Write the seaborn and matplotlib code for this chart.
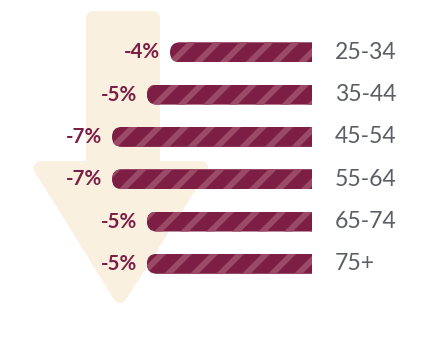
import numpy as np
import pandas as pd
import matplotlib
matplotlib.use("Agg")
import matplotlib.pyplot as plt
import seaborn as sns
from matplotlib.patches import Polygon, FancyBboxPatch

# ---- data ----
age_groups = ["25-34", "35-44", "45-54", "55-64", "65-74", "75+"]
pct_labels = ["-4%", "-5%", "-7%", "-7%", "-5%", "-5%"]
bar_values = [-4.97, -5.78, -7.0, -7.0, -5.78, -5.78]

# ---- style ----
W, H, DPI = 440, 343, 78
BASE = "#7D1E45"
STRIPE = "#9A4966"
CREAM = "#FAF0DF"
GREY = "#5B5E64"

sns.set_theme(style="white")
plt.rcParams["font.family"] = ["Lato", "DejaVu Sans"]
plt.rcParams["hatch.linewidth"] = 5.5

def px2pt(px):
    return px * 72.0 / DPI

fig = plt.figure(figsize=(W / DPI, H / DPI), dpi=DPI)
fig.patch.set_facecolor("white")
ax = fig.add_axes([0, 0, 1, 1])
ax.set_facecolor("none")

df = pd.DataFrame({"age": age_groups, "value": bar_values})
sx = 28.57   # px per x unit
sy = 42.3    # px per category step
x_zero_px = 312.0
y_first_px = 52.3
bar_h = 20.0 / sy

sns.barplot(data=df, x="value", y="age", orient="h", color=BASE,
            width=bar_h, ax=ax, saturation=1)

ax.set_xlim(-x_zero_px / sx, (W - x_zero_px) / sx)
ax.set_ylim((H - y_first_px) / sy, -y_first_px / sy)
ax.axis("off")

r_x = 10.0 / sx
aspect = (10.0 / sy) / r_x
for p in ax.patches:
    x0 = p.get_x()
    w = p.get_width()
    left = min(x0, x0 + w)
    right = max(x0, x0 + w)
    y0 = p.get_y()
    h = p.get_height()
    p.set_edgecolor(STRIPE)
    p.set_linewidth(0)
    p.set_hatch("/")
    clip = FancyBboxPatch((left, y0), (right - left) + 1.0, h,
                          boxstyle=f"round,pad=0,rounding_size={r_x}",
                          mutation_aspect=aspect, transform=ax.transData)
    p.set_clip_path(clip)

for i, (v, lab, age) in enumerate(zip(bar_values, pct_labels, age_groups)):
    ax.annotate(lab, xy=(v, i), xytext=(-px2pt(10), 0), textcoords="offset points",
                ha="right", va="center", color=BASE, fontweight="bold",
                fontsize=px2pt(20.5))
    ax.annotate(age, xy=(0, i), xytext=(px2pt(23), 0), textcoords="offset points",
                ha="left", va="center", color=GREY, fontsize=px2pt(23))

# ---- background arrow (decoration) ----
arrow_px = [(86, 11), (160, 11), (160, 161), (214, 161), (120, 309), (28, 161), (86, 161)]
pts = np.array([(x, H - y) for x, y in arrow_px], dtype=float)

def offset_polygon(P, d):
    n = len(P)
    area = 0.5 * sum(P[i][0] * P[(i + 1) % n][1] - P[(i + 1) % n][0] * P[i][1] for i in range(n))
    sgn = 1 if area > 0 else -1
    lines = []
    for i in range(n):
        a, b = P[i], P[(i + 1) % n]
        dvec = b - a
        nrm = sgn * np.array([-dvec[1], dvec[0]]) / np.hypot(*dvec)
        lines.append((a + nrm * d, dvec))
    out = []
    for i in range(n):
        p1, d1 = lines[i - 1]
        p2, d2 = lines[i]
        A = np.array([d1, -d2]).T
        t = np.linalg.solve(A, p2 - p1)
        out.append(p1 + d1 * t[0])
    return np.array(out)

rad = 7.0
inner = offset_polygon(pts, rad)
inner[:, 0] /= W
inner[:, 1] /= H
arrow = Polygon(inner, closed=True, facecolor=CREAM, edgecolor=CREAM,
                linewidth=px2pt(2 * rad), joinstyle="round",
                transform=fig.transFigure, zorder=-5)
fig.add_artist(arrow)
ax.set_zorder(1)

fig.savefig("out.png", dpi=DPI, facecolor="white")
